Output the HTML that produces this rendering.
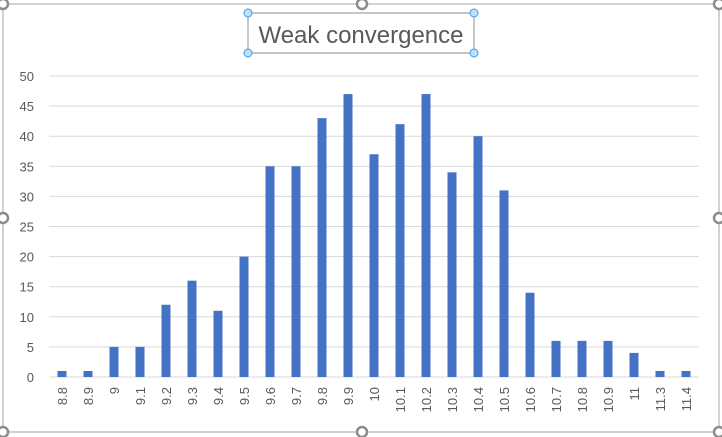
<!DOCTYPE html>
<html><head><meta charset="utf-8"><style>
body{margin:0;background:#fff;}
svg{display:block;font-family:"Liberation Sans",sans-serif;}
</style></head><body>
<svg id="c" width="722" height="437">
<rect x="3" y="4" width="716" height="428" fill="#fff" stroke="#a6a6a6" stroke-width="1"/>
<g id="grid"></g><g id="bars"></g><g id="ylab"></g><g id="xlab"></g>
<rect x="248" y="13" width="226" height="40" fill="none" stroke="#8c8c8c"/>
<text x="361" y="43" text-anchor="middle" font-size="24" fill="#595959">Weak convergence</text>
<g fill="#bde0fb" stroke="#3c9be8" stroke-width="1">
<circle cx="248" cy="13" r="4"/>
<circle cx="474" cy="13" r="4"/>
<circle cx="248" cy="53" r="4"/>
<circle cx="474" cy="53" r="4"/>
</g>
<g fill="#fff" stroke="#8c8c8c" stroke-width="2.5">
<circle cx="3" cy="4" r="5"/>
<circle cx="362" cy="4" r="5"/>
<circle cx="719" cy="4" r="5"/>
<circle cx="3" cy="218" r="5"/>
<circle cx="719" cy="218" r="5"/>
<circle cx="3" cy="432" r="5"/>
<circle cx="362" cy="432" r="5"/>
<circle cx="719" cy="432" r="5"/>
</g>
</svg>
<script>
const categories=["8.8","8.9","9","9.1","9.2","9.3","9.4","9.5","9.6","9.7","9.8","9.9","10","10.1","10.2","10.3","10.4","10.5","10.6","10.7","10.8","10.9","11","11.3","11.4"];
const values=[1,1,5,5,12,16,11,20,35,35,43,47,37,42,47,34,40,31,14,6,6,6,4,1,1];
const yTicks=[0,5,10,15,20,25,30,35,40,45,50];
const NS="http://www.w3.org/2000/svg";
const L=49,R=699,T=76,B=377,yMax=50;
const y=v=>B-(B-T)*v/yMax;
const step=(R-L)/categories.length;
const x=i=>L+step*(i+0.5);
function mk(t,a,p){const e=document.createElementNS(NS,t);for(const k in a)e.setAttribute(k,a[k]);document.getElementById(p).appendChild(e);return e;}
yTicks.forEach(v=>{
 const g=mk('line',{x1:L,x2:R,y1:y(v),y2:y(v),stroke:'#d9d9d9','stroke-width':1},'grid');
 
 
 const t=mk('text',{x:34,y:y(v)+5,'text-anchor':'end','font-size':13,fill:'#595959'},'ylab');
 t.textContent=v;
 
 
});
values.forEach((v,i)=>{
 const b=mk('rect',{x:x(i)-4.5,y:y(v),width:9,height:B-y(v),fill:'#4472c4'},'bars');
 
 
 const t=mk('text',{transform:`translate(${x(i)+5},387) rotate(-90)`,'text-anchor':'end','font-size':13,fill:'#595959'},'xlab');
 t.textContent=categories[i];
 
 
});
</script>
</body></html>
